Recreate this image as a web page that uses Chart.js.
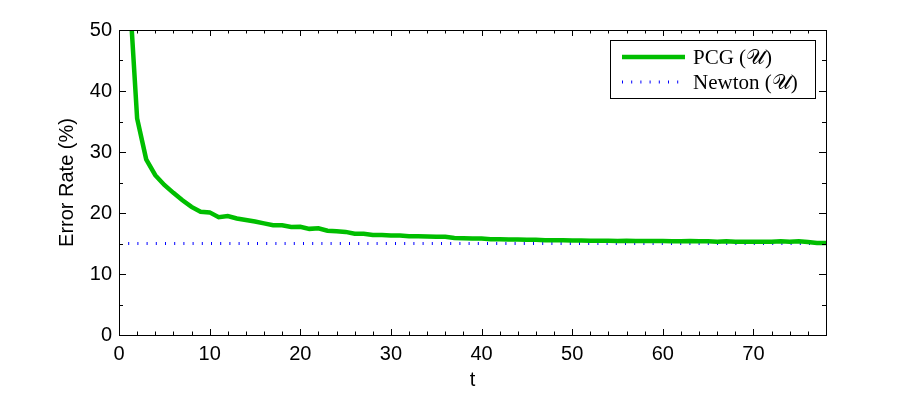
<!DOCTYPE html>
<html>
<head>
<meta charset="utf-8">
<script src="https://cdn.jsdelivr.net/npm/chart.js@4.4.0/dist/chart.umd.min.js"></script>
<style>
  html, body { margin: 0; padding: 0; background: #fff; }
</style>
</head>
<body>
<canvas id="errChart" width="913" height="394"></canvas>
<script>
// iteration index and error rates
const tValues = [1, 2, 3, 4, 5, 6, 7, 8, 9, 10,
  11, 12, 13, 14, 15, 16, 17, 18, 19, 20,
  21, 22, 23, 24, 25, 26, 27, 28, 29, 30,
  31, 32, 33, 34, 35, 36, 37, 38, 39, 40,
  41, 42, 43, 44, 45, 46, 47, 48, 49, 50,
  51, 52, 53, 54, 55, 56, 57, 58, 59, 60,
  61, 62, 63, 64, 65, 66, 67, 68, 69, 70,
  71, 72, 73, 74, 75, 76, 77, 78];
const pcgError = [60, 35.5, 28.8, 26.2, 24.6, 23.3, 22.1, 21.0, 20.2, 20.1,
  19.3, 19.5, 19.1, 18.85, 18.6, 18.3, 18.0, 18.0, 17.7, 17.75,
  17.4, 17.5, 17.1, 17.0, 16.9, 16.6, 16.6, 16.4, 16.4, 16.3,
  16.3, 16.2, 16.2, 16.15, 16.1, 16.1, 15.9, 15.85, 15.8, 15.8,
  15.7, 15.7, 15.65, 15.65, 15.6, 15.6, 15.55, 15.55, 15.55, 15.5,
  15.5, 15.45, 15.45, 15.45, 15.4, 15.45, 15.4, 15.4, 15.4, 15.4,
  15.35, 15.35, 15.4, 15.35, 15.35, 15.3, 15.35, 15.3, 15.3, 15.3,
  15.3, 15.3, 15.35, 15.3, 15.35, 15.25, 15.1, 15.1];
const newtonT = [0, 78];
const newtonError = [15, 15];

const xTicks = [0, 10, 20, 30, 40, 50, 60, 70];
const yTicks = [0, 10, 20, 30, 40, 50];
const seriesLabels = ['PCG (\u{1D4B0})', 'Newton (\u{1D4B0})'];

const tickFont = { family: "'Liberation Sans', Arial, sans-serif", size: 20 };

const toPoints = (xs, ys) => xs.map((x, i) => ({ x: x, y: ys[i] }));

// box around the plot + inward ticks on all four sides
const frameTicks = {
  id: 'frameTicks',
  afterDraw(chart) {
    const { ctx, chartArea: a, scales } = chart;
    const xs = scales.x, ys = scales.y;
    ctx.save();
    ctx.strokeStyle = '#000';
    ctx.lineWidth = 1;
    ctx.strokeRect(Math.round(a.left) + 0.5, Math.round(a.top) + 0.5,
      Math.round(a.right - a.left), Math.round(a.bottom - a.top));
    ctx.beginPath();
    for (let v = xs.min; v <= xs.max; v += 2) {
      const px = Math.round(xs.getPixelForValue(v)) + 0.5;
      const len = v % 10 === 0 ? 6 : 3.5;
      ctx.moveTo(px, a.bottom); ctx.lineTo(px, a.bottom - len);
      ctx.moveTo(px, a.top); ctx.lineTo(px, a.top + len);
    }
    for (let v = ys.min; v <= ys.max; v += 5) {
      const py = Math.round(ys.getPixelForValue(v)) + 0.5;
      const len = v % 10 === 0 ? 7 : 4;
      ctx.moveTo(a.left, py); ctx.lineTo(a.left + len, py);
      ctx.moveTo(a.right, py); ctx.lineTo(a.right - len, py);
    }
    ctx.stroke();
    ctx.restore();
  }
};

// boxed legend inside the top right corner
const boxLegend = {
  id: 'boxLegend',
  afterDraw(chart) {
    const { ctx, chartArea: a } = chart;
    const left = a.right - 216, top = a.top + 10, w = 205, h = 58;
    ctx.save();
    ctx.fillStyle = '#fff';
    ctx.fillRect(left, top, w, h);
    ctx.strokeStyle = '#000';
    ctx.lineWidth = 1;
    ctx.strokeRect(Math.round(left) + 0.5, Math.round(top) + 0.5, w, h);
    ctx.font = "21px 'Liberation Serif', 'Times New Roman', serif";
    ctx.textBaseline = 'middle';
    chart.data.datasets.forEach((ds, i) => {
      const y = top + 17 + i * 25;
      ctx.beginPath();
      ctx.strokeStyle = ds.borderColor;
      ctx.lineWidth = ds.borderWidth;
      ctx.setLineDash(ds.borderDash || []);
      ctx.moveTo(left + 12, y);
      ctx.lineTo(left + 75, y);
      ctx.stroke();
      ctx.setLineDash([]);
      ctx.fillStyle = '#000';
      ctx.fillText(ds.label, left + 83, y + 1);
    });
    ctx.restore();
  }
};

new Chart(document.getElementById('errChart'), {
  type: 'line',
  data: {
    datasets: [{
      label: seriesLabels[0],
      data: toPoints(tValues, pcgError),
      borderColor: 'rgb(0, 190, 0)',
      borderWidth: 4.5,
      pointRadius: 0,
      tension: 0,
      clip: 0
    }, {
      label: seriesLabels[1],
      data: toPoints(newtonT, newtonError),
      borderColor: 'rgb(0, 0, 255)',
      borderWidth: 3,
      borderDash: [1, 8.2],
      pointRadius: 0,
      tension: 0,
      clip: 0
    }]
  },
  options: {
    responsive: false,
    animation: false,
    devicePixelRatio: 1,
    layout: { padding: { top: 30, right: 87, left: 0, bottom: 0 } },
    plugins: {
      legend: { display: false },
      tooltip: { enabled: false }
    },
    scales: {
      x: {
        type: 'linear',
        min: 0,
        max: 78,
        grid: { display: false, drawTicks: false },
        border: { display: false },
        ticks: { font: tickFont, color: '#000', padding: 7 },
        afterBuildTicks: (scale) => { scale.ticks = xTicks.map(v => ({ value: v })); },
        afterFit: (scale) => { scale.height = 59; },
        title: { display: true, text: 't', font: tickFont, color: '#000', padding: { top: 0, bottom: 2 } }
      },
      y: {
        min: 0,
        max: 50,
        grid: { display: false, drawTicks: false },
        border: { display: false },
        ticks: { font: tickFont, color: '#000', padding: 7 },
        afterBuildTicks: (scale) => { scale.ticks = yTicks.map(v => ({ value: v })); },
        afterFit: (scale) => { scale.width = 119; },
        title: { display: true, text: 'Error Rate (%)', font: tickFont, color: '#000', padding: { top: 55, bottom: 0 } }
      }
    }
  },
  plugins: [frameTicks, boxLegend]
});
</script>
</body>
</html>
